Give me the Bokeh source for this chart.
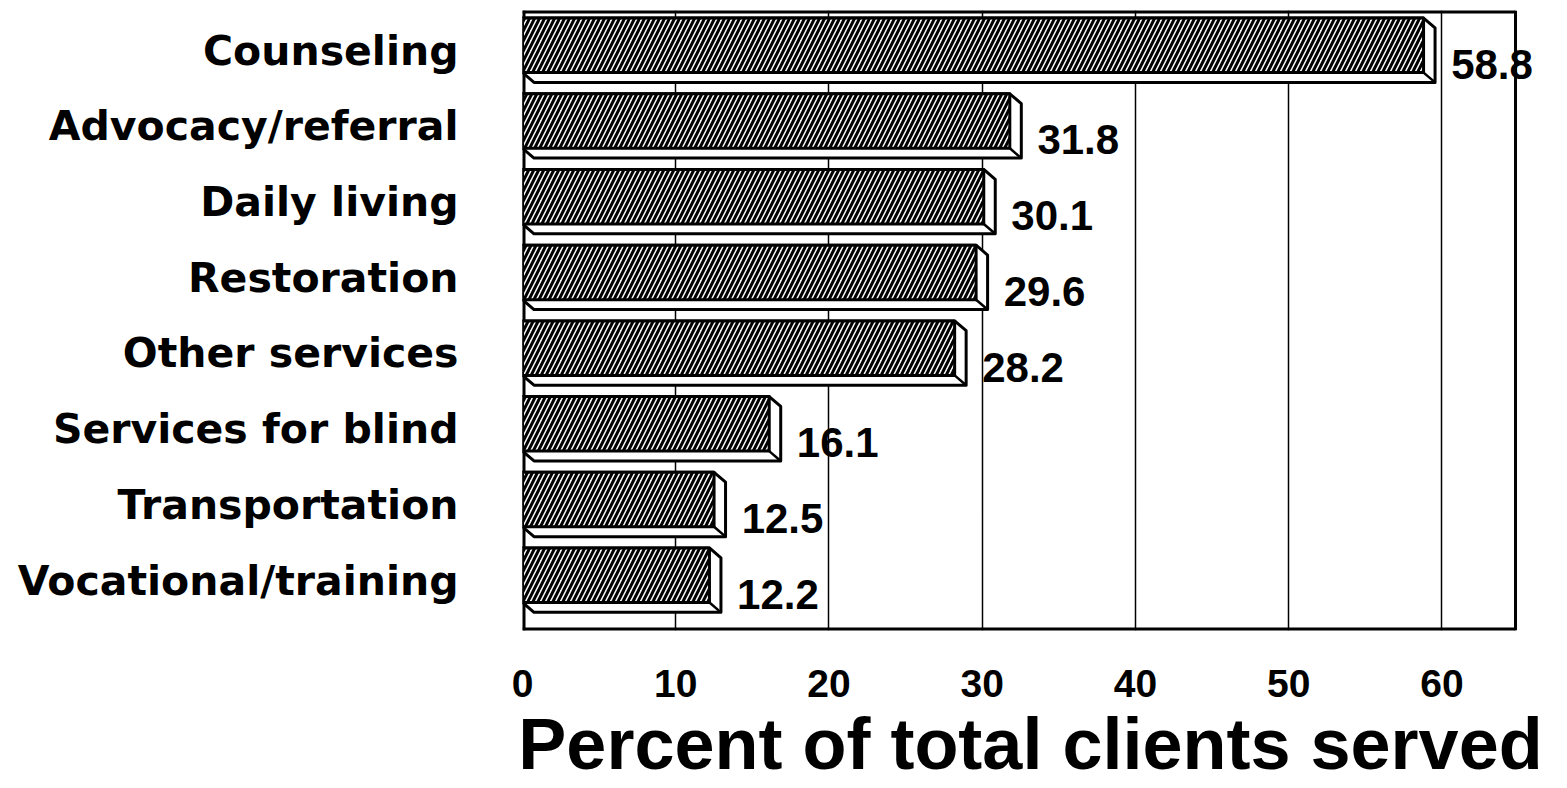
import numpy as np
from bokeh.plotting import figure
from bokeh.models import Range1d, FixedTicker, ColumnDataSource, LabelSet, Span
from bokeh.core.properties import value
from bokeh.embed import file_html
from bokeh.resources import INLINE

# ---- data ----
categories = ["Counseling", "Advocacy/referral", "Daily living", "Restoration",
              "Other services", "Services for blind", "Transportation", "Vocational/training"]
values = [58.8, 31.8, 30.1, 29.6, 28.2, 16.1, 12.5, 12.2]
value_labels = ["58.8", "31.8", "30.1", "29.6", "28.2", "16.1", "12.5", "12.2"]
x_ticks = [0, 10, 20, 30, 40, 50, 60]
x_axis_title = "Percent of total clients served"

# ---- geometry (style) ----
n = len(categories)
pos = np.array([n - 1 - i for i in range(n)], dtype=float)
v = np.array(values, dtype=float)
TOP, BOT, DX, DY = 0.43, -0.29, 0.75, 0.13
X_END = 64.8           # right edge of the drawn frame
X_VIEW = 66.3          # extra room so the last value label is not clipped
Y0, Y1 = -0.66, 7.53

p = figure(width=1551, height=786, output_backend="svg", toolbar_location=None,
           x_range=Range1d(0, X_VIEW), y_range=Range1d(Y0, Y1),
           min_border_left=522, min_border_right=13, min_border_top=10, min_border_bottom=0)
p.background_fill_color = "white"
p.border_fill_color = "white"
p.outline_line_color = None

# frame box drawn by hand (left/top/bottom clipped to half -> 3px visible)
p.segment(x0=[0, 0, 0], y0=[Y0, Y1, Y0], x1=[X_END, X_END, 0], y1=[Y0, Y1, Y1],
          line_color="black", line_width=6)
p.add_layout(Span(location=X_END, dimension="height", line_color="black", line_width=3))

# silhouettes (3D depth)
xs, ys = [], []
for c, val in zip(pos, v):
    xs.append([0, val, val + DX, val + DX, DX, 0])
    ys.append([c + TOP, c + TOP, c + TOP - DY, c + BOT - DY, c + BOT - DY, c + BOT])
p.patches(xs, ys, fill_color="white", line_color="black", line_width=3, line_join="round")
p.segment(x0=v, y0=pos + BOT, x1=v + DX, y1=pos + BOT - DY, line_color="black", line_width=2.5)

# front faces (hatched)
p.quad(left=0, right=v, bottom=pos + BOT, top=pos + TOP,
       fill_color="white", hatch_pattern="/", hatch_color="black",
       hatch_scale=10, hatch_weight=3,
       line_color="black", line_width=3, line_join="round")

# value labels
src = ColumnDataSource(dict(x=v + 1.8, y=pos - 0.18, t=value_labels))
p.add_layout(LabelSet(x="x", y="y", text="t", source=src, text_font=value("Liberation Sans"),
                      text_font_style="bold", text_font_size="42px", text_color="black",
                      text_baseline="middle", text_align="left"))

# axes
p.xaxis.ticker = FixedTicker(ticks=x_ticks)
p.xaxis.major_tick_out = 0
p.xaxis.major_tick_in = 0
p.xaxis.minor_tick_line_color = None
p.xaxis.axis_line_color = None
p.xaxis.major_label_text_font = "Liberation Sans"
p.xaxis.major_label_text_font_style = "bold"
p.xaxis.major_label_text_font_size = "39px"
p.xaxis.major_label_text_color = "black"
p.xaxis.major_label_standoff = 39
p.xaxis.axis_label = x_axis_title
p.xaxis.axis_label_text_font = "Liberation Sans"
p.xaxis.axis_label_text_font_style = "bold"
p.xaxis.axis_label_text_font_size = "72px"
p.xaxis.axis_label_text_color = "black"
p.xaxis.axis_label_standoff = 4

p.yaxis.ticker = FixedTicker(ticks=list(pos))
p.yaxis.major_label_overrides = {float(c): name for c, name in zip(pos, categories)}
p.yaxis.major_tick_out = 0
p.yaxis.major_tick_in = 0
p.yaxis.minor_tick_line_color = None
p.yaxis.axis_line_color = None
p.yaxis.major_label_text_font = "DejaVu Sans"
p.yaxis.major_label_text_font_style = "bold"
p.yaxis.major_label_text_font_size = "41px"
p.yaxis.major_label_text_color = "black"
p.yaxis.major_label_standoff = 64

p.xgrid.ticker = FixedTicker(ticks=[t for t in x_ticks if t > 0])
p.xgrid.grid_line_color = "black"
p.xgrid.grid_line_width = 1.5
p.xgrid.grid_line_alpha = 1.0
p.ygrid.grid_line_color = None

open("out.html", "w").write(file_html(p, INLINE))
